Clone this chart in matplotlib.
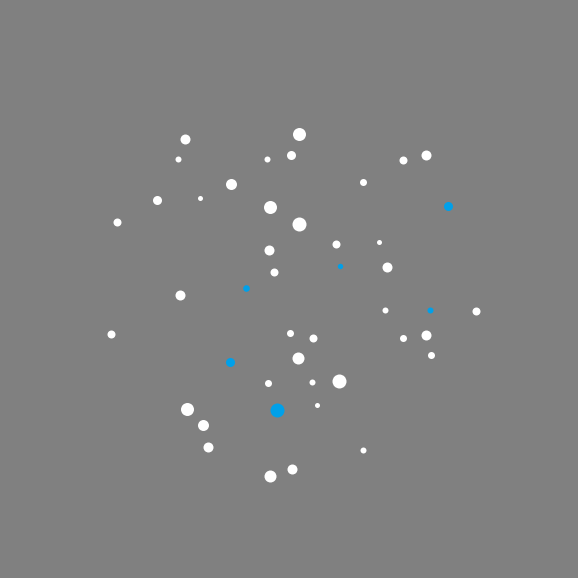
import matplotlib
matplotlib.use("Agg")
import matplotlib.pyplot as plt
import numpy as np

# white points: x, y, radius
wx = [185, 299, 178, 267, 291, 403, 426, 363, 231, 157, 200, 270, 299, 117, 336, 379, 269, 274, 387, 180,
      385, 476, 111, 290, 313, 403, 426, 298, 431, 268, 312, 339, 187, 203, 317, 208, 363, 292, 270]
wy = [139, 134, 159, 159, 155, 160, 155, 182, 184, 200, 198, 207, 224, 222, 244, 242, 250, 272, 267, 295,
      310, 311, 334, 333, 338, 338, 335, 358, 355, 383, 382, 381, 409, 425, 405, 447, 450, 469, 476]
wr = [5, 6.5, 3, 3, 4.5, 4, 5, 3.5, 5.5, 4.5, 2.5, 6.5, 7, 4, 4, 2.5, 5, 4, 5, 5,
      3, 4, 4, 3.5, 4, 3.5, 5, 6, 3.5, 3.5, 3, 7, 6.5, 5.5, 2.5, 5, 3, 5, 6]

# blue points
bx = [448, 340, 246, 430, 230, 277]
by = [206, 266, 288, 310, 362, 410]
br = [4.5, 2.7, 3.3, 3, 4.5, 7]

fig = plt.figure(figsize=(5.78, 5.78), dpi=100, facecolor="#808080")
ax = fig.add_axes([0, 0, 1, 1])
ax.set_facecolor("#808080")

# radius in px -> marker area in pt^2
size = lambda r: (np.array(r) * 2 * 0.72) ** 2
ax.scatter(wx, wy, s=size(wr), c="white", linewidths=0)
ax.scatter(bx, by, s=size(br), c="#00a0e9", linewidths=0)

ax.set_xlim(-0.5, 577.5)
ax.set_ylim(577.5, -0.5)
ax.axis("off")

fig.savefig("out.png", dpi=100, facecolor="#808080")
